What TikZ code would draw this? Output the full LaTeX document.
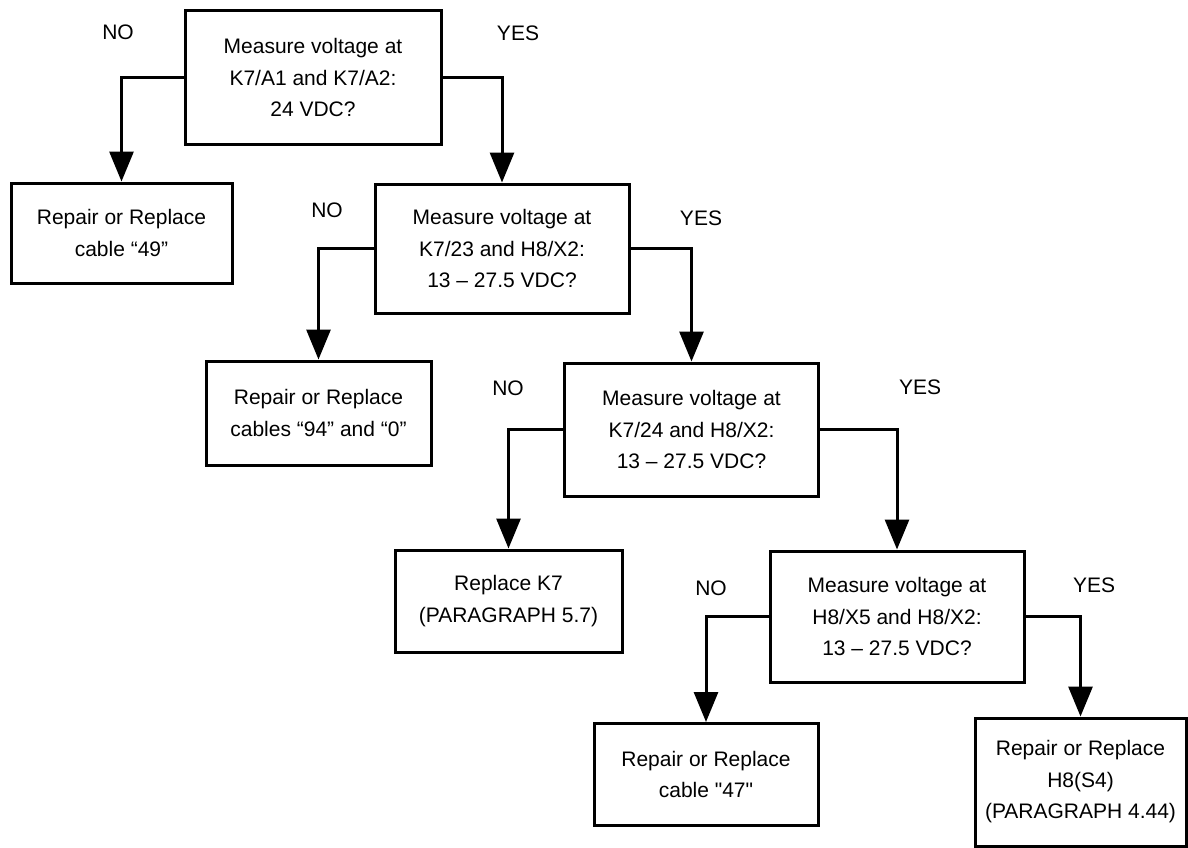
\documentclass[tikz,border=0pt]{standalone}
\usepackage{fontspec}
\setmainfont{Liberation Sans}
\usetikzlibrary{arrows.meta,positioning}

\begin{document}
\begin{tikzpicture}[x=1pt, y=-1pt,
    every node/.style={font=\fontsize{21}{31.5}\selectfont},
    ask/.style={draw, line width=3pt, align=center, inner sep=0pt, minimum width=254pt, minimum height=131pt},
    fix/.style={draw, line width=3pt, align=center, inner sep=0pt, minimum width=224pt, minimum height=102pt},
    flow/.style={line width=3pt, -{Triangle[width=24pt,length=30pt]}}]
    \useasboundingbox (0,0) rectangle (1188,848);

    % questions, stepping down to the right
    \node[ask, minimum width=256pt, minimum height=133pt] (q1) at (313,77.5) {Measure voltage at\\K7/A1 and K7/A2:\\24 VDC?};
    \node[ask, minimum height=129pt] (q2) at (502,248.5) {Measure voltage at\\K7/23 and H8/X2:\\13 -- 27.5 VDC?};
    \node[ask, minimum height=133pt] (q3) at (691.5,429.5) {Measure voltage at\\K7/24 and H8/X2:\\13 -- 27.5 VDC?};
    \node[ask] (q4) at (897,616.5) {Measure voltage at\\H8/X5 and H8/X2:\\13 -- 27.5 VDC?};

    % repairs
    \node[fix, minimum width=221pt, minimum height=100pt] (cab49) at (121.5,233) {Repair or Replace\\cable ``49''};
    \node[fix, minimum width=225pt, minimum height=104pt] (cab94) at (318.5,413) {Repair or Replace\\cables ``94'' and ``0''};
    \node[fix, minimum width=227pt] (relk7) at (508.5,601) {Replace K7\\(PARAGRAPH 5.7)};
    \node[fix] (cab47) at (706,774.5) {Repair or Replace\\cable \textquotedbl47\textquotedbl};
    \node[fix, minimum width=211pt, minimum height=128pt] (swh8) at (1080.5,782) {Repair or Replace\\H8(S4)\\(PARAGRAPH 4.44)};

    \draw[flow] (q1.west) -| (cab49.north);
    \draw[flow] (q1.east) -| (q2.north);
    \draw[flow] (q2.west) -| (cab94.north);
    \draw[flow] (q2.east) -| (q3.north);
    \draw[flow] (q3.west) -| (relk7.north);
    \draw[flow] (q3.east) -| (q4.north);
    \draw[flow] (q4.west) -| (cab47.north);
    \draw[flow] (q4.east) -| (swh8.north);

    \node (no1) at (118,32) {NO};
    \node (yes1) at (518,33) {YES};
    \node (no2) at (327,210) {NO};
    \node (yes2) at (701,218) {YES};
    \node (no3) at (508,388) {NO};
    \node (yes3) at (920,387) {YES};
    \node (no4) at (711,588) {NO};
    \node (yes4) at (1094,585) {YES};
\end{tikzpicture}
\end{document}
